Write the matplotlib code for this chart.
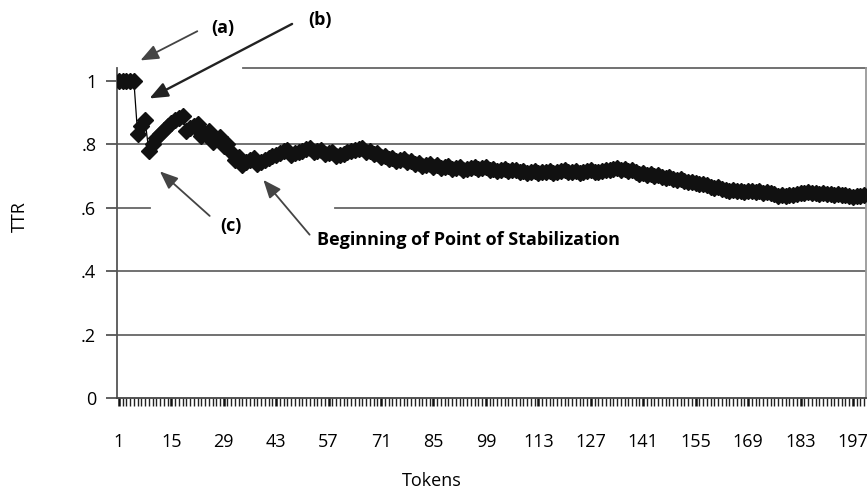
import numpy as np
import matplotlib
matplotlib.use("Agg")
import matplotlib.pyplot as plt
from matplotlib.ticker import FixedLocator

plt.rcParams['font.family'] = ['Open Sans', 'DejaVu Sans']

# TTR per token
ttr = [
    1.0, 1.0, 1.0, 1.0, 1.0, 0.833, 0.857, 0.875, 0.778, 0.800,
    0.818, 0.833, 0.846, 0.857, 0.867, 0.875, 0.882, 0.889, 0.842, 0.850,
    0.857, 0.864, 0.826, 0.833, 0.840, 0.808, 0.815, 0.821, 0.793, 0.800,
    0.774, 0.750, 0.758, 0.735, 0.743, 0.750, 0.757, 0.737, 0.744, 0.750,
    0.756, 0.762, 0.767, 0.773, 0.778, 0.783, 0.766, 0.771, 0.776, 0.780,
    0.784, 0.788, 0.774, 0.778, 0.782, 0.768, 0.772, 0.776, 0.763, 0.767,
    0.770, 0.774, 0.778, 0.781, 0.785, 0.788, 0.776, 0.779, 0.768, 0.771,
    0.761, 0.764, 0.753, 0.757, 0.747, 0.750, 0.753, 0.744, 0.747, 0.738,
    0.741, 0.732, 0.735, 0.738, 0.729, 0.733, 0.724, 0.727, 0.730, 0.722,
    0.725, 0.728, 0.720, 0.723, 0.726, 0.729, 0.722, 0.724, 0.727, 0.720,
    0.723, 0.716, 0.718, 0.721, 0.714, 0.717, 0.720, 0.713, 0.716, 0.709,
    0.712, 0.714, 0.708, 0.711, 0.713, 0.716, 0.709, 0.712, 0.714, 0.717,
    0.711, 0.713, 0.715, 0.710, 0.712, 0.714, 0.717, 0.711, 0.713, 0.715,
    0.718, 0.720, 0.722, 0.724, 0.719, 0.721, 0.715, 0.717, 0.712, 0.707,
    0.709, 0.704, 0.706, 0.701, 0.703, 0.698, 0.693, 0.695, 0.690, 0.687,
    0.689, 0.684, 0.680, 0.682, 0.677, 0.673, 0.675, 0.670, 0.666, 0.662,
    0.664, 0.660, 0.656, 0.652, 0.655, 0.651, 0.653, 0.649, 0.651, 0.653,
    0.649, 0.651, 0.647, 0.649, 0.645, 0.642, 0.638, 0.640, 0.636, 0.639,
    0.641, 0.643, 0.645, 0.647, 0.648, 0.645, 0.647, 0.643, 0.645, 0.642,
    0.644, 0.640, 0.642, 0.639, 0.641, 0.637, 0.634, 0.636, 0.638, 0.640,
]
tokens = np.arange(1, len(ttr) + 1)
x_labels = list(range(1, 198, 14))
y_ticks = [0, 0.2, 0.4, 0.6, 0.8, 1.0]
y_labels = ['0', '.2', '.4', '.6', '.8', '1']

fig = plt.figure(figsize=(8.68, 4.95), dpi=100)
ax = fig.add_axes([0.1348, 0.196, 0.863, 0.6666])

ax.plot(tokens, ttr, color='black', linewidth=0.9, marker='D',
        markersize=8, markerfacecolor='#111111', markeredgecolor='#111111',
        zorder=3)

ax.set_xlim(0.5, len(ttr) + 0.5)
ax.set_ylim(0, 1.04)

# gridlines (partly hidden in the original by the annotations)
grid_kw = dict(color='#666666', linewidth=1.3, zorder=1)
ax.axhline(0.2, **grid_kw)
ax.axhline(0.4, **grid_kw)
ax.axhline(0.6, xmin=0.0, xmax=0.044, **grid_kw)
ax.axhline(0.6, xmin=0.291, xmax=1.0, **grid_kw)
ax.axhline(0.8, **grid_kw)
ax.axhline(1.04, xmin=0.168, xmax=1.0, clip_on=False, **grid_kw)

ax.spines['top'].set_visible(False)
ax.spines['right'].set_color('#999999')
ax.spines['right'].set_linewidth(1.3)
ax.spines['left'].set_color('#555555')
ax.spines['left'].set_linewidth(1.3)
ax.spines['bottom'].set_color('#444444')
ax.spines['bottom'].set_linewidth(1.3)

ax.set_yticks(y_ticks)
ax.set_yticklabels(y_labels, fontsize=13)
ax.tick_params(axis='y', direction='out', length=8, width=1.3,
               color='#555555', pad=7)

ax.set_xticks(x_labels)
ax.set_xticklabels([str(v) for v in x_labels], fontsize=13)
ax.xaxis.set_minor_locator(FixedLocator(tokens))
ax.tick_params(axis='x', which='major', direction='out', length=6,
               width=1.8, color='#111111', pad=19)
ax.tick_params(axis='x', which='minor', direction='out', length=6,
               width=1.0, color='#222222')

ax.set_ylabel('TTR', fontsize=13)
ax.yaxis.set_label_coords(-0.117, 0.55)
ax.set_xlabel('Tokens', fontsize=13)
ax.xaxis.set_label_coords(0.42, -0.225)

arrow_kw = dict(arrowstyle='-|>,head_length=1.1,head_width=0.45',
                color='#444444', linewidth=1.3)

# (a)
ax.annotate('', xy=(6.1, 1.06), xytext=(22.6, 1.16),
            arrowprops=arrow_kw, annotation_clip=False)
ax.text(28.7, 1.167, '(a)', fontsize=13, fontweight='bold',
        ha='center', va='center', clip_on=False)
# (b)
ax.annotate('', xy=(8.5, 0.94), xytext=(47.9, 1.183),
            arrowprops=dict(arrow_kw, color='#222222', linewidth=1.7),
            annotation_clip=False)
ax.text(54.8, 1.19, '(b)', fontsize=13, fontweight='bold',
        ha='center', va='center', clip_on=False)
# (c)
ax.annotate('', xy=(11.4, 0.72), xytext=(25.8, 0.568),
            arrowprops=arrow_kw, annotation_clip=False)
ax.text(31.0, 0.543, '(c)', fontsize=13, fontweight='bold',
        ha='center', va='center')
# stabilization
ax.annotate('', xy=(39.1, 0.694), xytext=(52.4, 0.508),
            arrowprops=arrow_kw, annotation_clip=False)
ax.text(54.0, 0.498, 'Beginning of Point of Stabilization', fontsize=13,
        fontweight='bold', ha='left', va='center')

fig.savefig('out.png', dpi=100)
